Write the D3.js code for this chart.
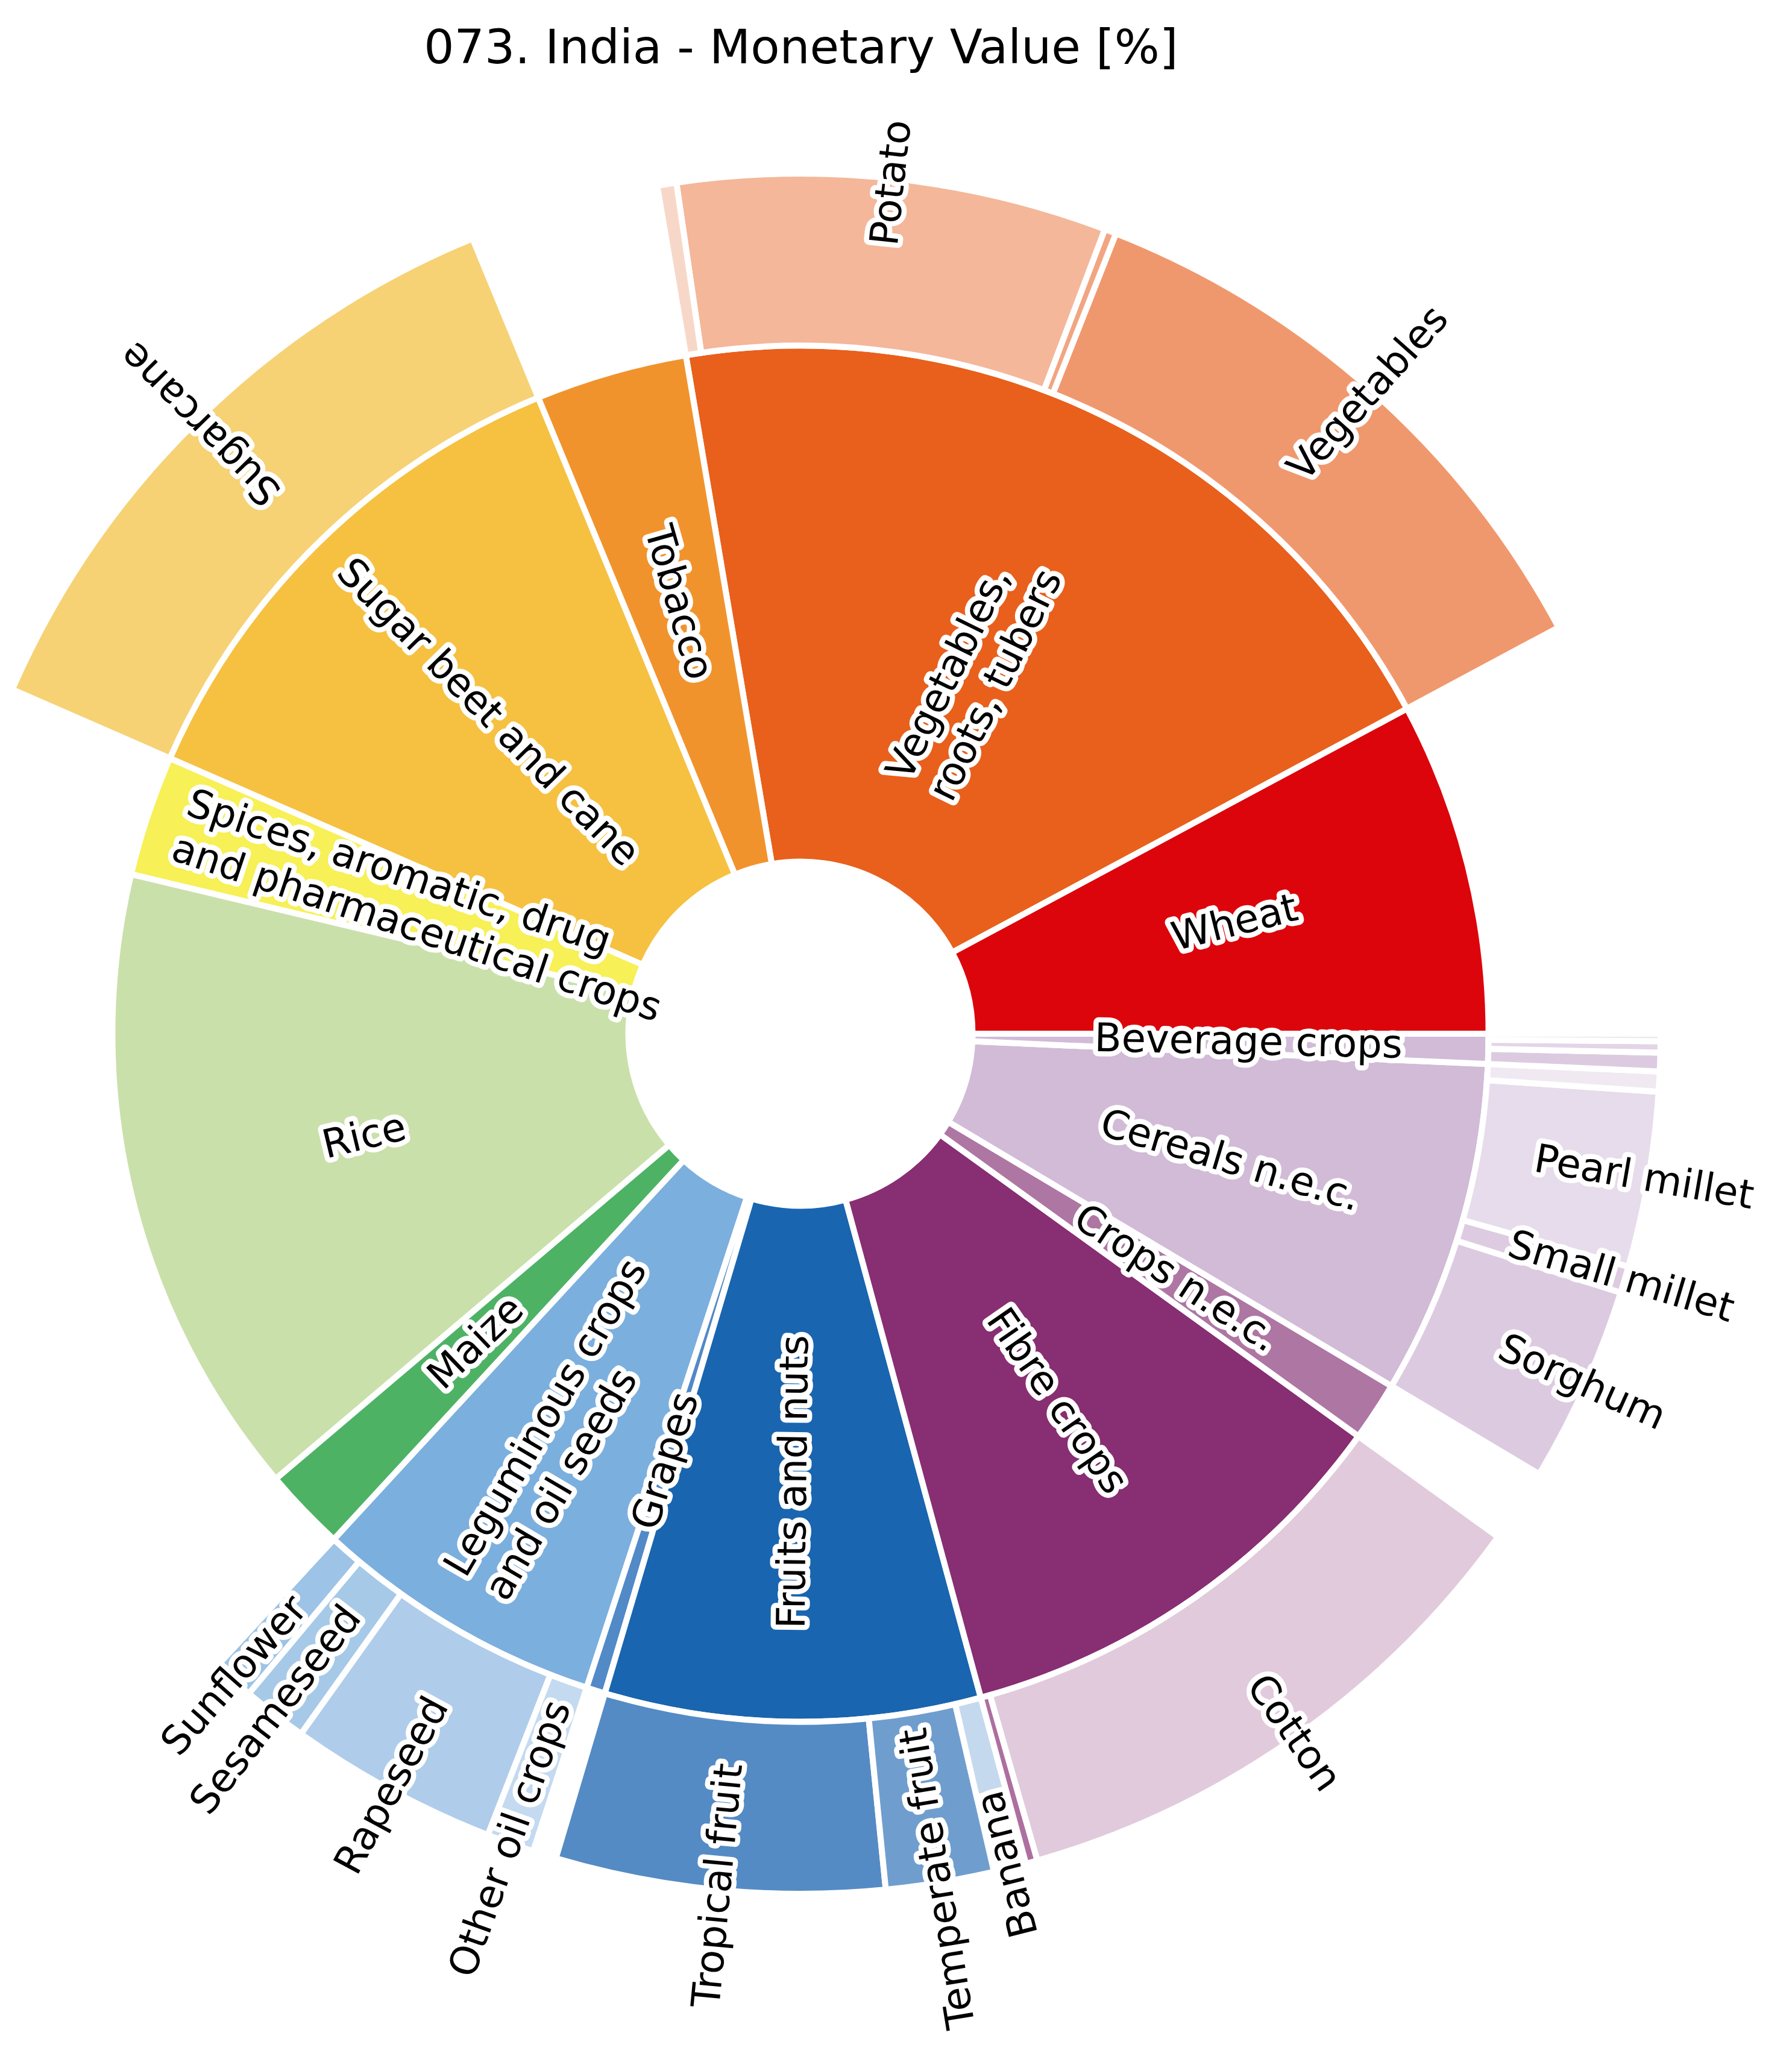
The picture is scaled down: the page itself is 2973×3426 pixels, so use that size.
<!DOCTYPE html>
<html>
<head>
<meta charset="utf-8">
<script src="https://cdn.jsdelivr.net/npm/d3@7"></script>
<style>
html,body{margin:0;padding:0;background:#fff;}
svg{display:block;}
text{font-family:"DejaVu Sans", sans-serif;}
</style>
</head>
<body>
<script>
// ---------------- data ----------------
const title = "073. India - Monetary Value [%]";

// inner ring, counter-clockwise from 3 o'clock
const categories = ["Wheat", "Vegetables,\nroots, tubers", "Tobacco", "Sugar beet and cane",
  "Spices, aromatic, drug\nand pharmaceutical crops", "Rice", "Maize",
  "Leguminous crops\nand oil seeds", "Grapes", "Fruits and nuts", "Fibre crops",
  "Crops n.e.c.", "Cereals n.e.c.", "Beverage crops"];
const categoryValues = [7.83, 19.83, 3.56, 12.22, 2.83, 14.92, 1.94, 6.83, 0.44, 8.81, 10.83, 1.39, 7.86, 0.69];
const categoryColors = ["#DC050C", "#E8601C", "#F1932D", "#F6C141", "#F7F056", "#CAE0AB", "#4EB265",
  "#7BAFDE", "#5289C7", "#1965B0", "#882E72", "#AE76A3", "#D1BBD7", "#D1BBD7"];

// outer ring (sub-items)
const vegNames = ["Vegetables", "Cassava", "Potato", "Sweet potato"];
const vegValues = [11.19, 0.22, 8.06, 0.36];
const vegColors = ["#F0986D", "#F1A581", "#F4B79A", "#F7D8C8"];

const sugarNames = ["Sugarcane"];
const sugarValues = [12.22];
const sugarColors = ["#F6D275"];

const oilNames = ["Sunflower", "Sesameseed", "Rapeseed", "Other oil crops"];
const oilValues = [0.78, 1.22, 3.94, 0.89];
const oilColors = ["#9DC3E6", "#A6C9E8", "#AFCDEA", "#C3DAF0"];

const fruitNames = ["Tropical fruit", "Temperate fruit", "Banana"];
const fruitValues = [6.17, 2.03, 0.61];
const fruitColors = ["#558BC4", "#6F9ECE", "#C5D9EE"];
const fruitReach = [1, 1, 0.555];   // share of the outer band that each item fills

const fibreNames = ["Other fibre crops", "Cotton"];
const fibreValues = [0.22, 10.61];
const fibreColors = ["#AE6FA0", "#E1CADC"];

const cerealNames = ["Sorghum", "Small millet", "Pearl millet", "Other cereals"];
const cerealValues = [3.69, 0.50, 3.29, 0.375];
const cerealColors = ["#DCCBE0", "#DDCCE1", "#E7DCEB", "#F0E9F2"];

const beverageNames = ["Tea", "Coffee", "Other beverages"];
const beverageValues = [0.35, 0.21, 0.14];
const beverageColors = ["#DCCBE0", "#E3D5E7", "#EEE6F0"];

const labelMin = 0.4;  // outer items smaller than this stay unlabeled

// ---------------- layout ----------------
const W = 2973, H = 3426;
const cx = 1328, cy = 1715, R = 1427;
const rScale = d3.scaleLinear().domain([0, 1]).range([0, R]);
const innerLabelR = 0.521, outerLabelR = 0.995;
const labelROverride = new Map([[categories[1], 0.464], [categories[4], 0.462], [categories[7], 0.535]]);

const groups = [
  {parent: categories[1], names: vegNames, values: vegValues, colors: vegColors},
  {parent: categories[3], names: sugarNames, values: sugarValues, colors: sugarColors},
  {parent: categories[7], names: oilNames, values: oilValues, colors: oilColors},
  {parent: categories[9], names: fruitNames, values: fruitValues, colors: fruitColors, reach: fruitReach},
  {parent: categories[10], names: fibreNames, values: fibreValues, colors: fibreColors},
  {parent: categories[12], names: cerealNames, values: cerealValues, colors: cerealColors},
  {parent: categories[13], names: beverageNames, values: beverageValues, colors: beverageColors}
];

const rootData = {
  name: "root",
  children: categories.map((c, i) => {
    const g = groups.find(g => g.parent === c);
    return {
      name: c, color: categoryColors[i], value: g ? 0 : categoryValues[i],
      children: g ? g.names.map((n, j) => ({
        name: n, value: g.values[j], color: g.colors[j], reach: g.reach ? g.reach[j] : 1
      })) : undefined
    };
  })
};

const root = d3.hierarchy(rootData).sum(d => d.children ? 0 : d.value);
d3.partition().size([2 * Math.PI, 1])(root);

const innerR = d => d.depth === 1 ? rScale(0.2) : rScale(0.8);
const outerR = d => d.depth === 1 ? rScale(0.8) : rScale(0.8 + 0.2 * d.data.reach);

// partition x runs counter-clockwise from 3 o'clock
const arc = d3.arc()
  .startAngle(d => Math.PI / 2 - d.x0)
  .endAngle(d => Math.PI / 2 - d.x1)
  .innerRadius(innerR)
  .outerRadius(outerR);

const svg = d3.select("body").append("svg")
  .attr("width", W).attr("height", H)
  .attr("viewBox", `0 0 ${W} ${H}`);
svg.append("rect").attr("width", W).attr("height", H).attr("fill", "#fff");

svg.append("text")
  .attr("x", cx + 1).attr("y", 105)
  .attr("text-anchor", "middle")
  .attr("font-size", 79)
  .attr("fill", "#000")
  .text(title);

const g = svg.append("g").attr("transform", `translate(${cx},${cy})`);

const nodes = root.descendants().filter(d => d.depth > 0);
[1, 2].forEach(depth => {
  g.selectAll(null)
    .data(nodes.filter(d => d.depth === depth))
    .join("path")
    .attr("d", arc)
    .attr("fill", d => d.data.color)
    .attr("stroke", "#fff")
    .attr("stroke-width", 10)
    .attr("stroke-linejoin", "miter");
});

// ---------------- labels ----------------
const fs = 65.5;
const lineGap = 1.2;
const labelled = nodes.filter(d => d.depth === 1 || d.value >= labelMin);
const lab = g.selectAll(null)
  .data(labelled)
  .join("text")
  .attr("font-size", fs)
  .attr("fill", "#000")
  .attr("stroke", "#fff")
  .attr("stroke-width", 17)
  .attr("stroke-linejoin", "round")
  .attr("paint-order", "stroke")
  .attr("transform", d => {
    const mid = (d.x0 + d.x1) / 2;
    const deg = mid * 180 / Math.PI;
    const rf = d.depth === 1 ? (labelROverride.get(d.data.name) ?? innerLabelR) : outerLabelR;
    const r = rScale(rf);
    let rot;
    if (d.depth === 1) rot = (deg > 90 && deg < 270) ? deg - 180 : deg;
    else rot = (deg > 180 && deg < 300) ? deg - 180 : deg;
    return `translate(${r * Math.cos(mid)},${-r * Math.sin(mid)}) rotate(${-rot})`;
  });

lab.each(function(d) {
  const lines = d.data.name.split("\n");
  const n = lines.length;
  const sel = d3.select(this);
  const ts = sel.selectAll("tspan")
    .data(lines)
    .join("tspan")
    .attr("y", (t, i) => (0.276 + (i - (n - 1) / 2) * lineGap) * fs)
    .text(t => t);
  if (n === 1) {
    sel.attr("text-anchor", "middle");
    ts.attr("x", 0);
  } else {
    // multi-line: lines left-aligned inside a centred block
    sel.attr("text-anchor", "start");
    let maxW = 0;
    ts.each(function() { maxW = Math.max(maxW, this.getComputedTextLength()); });
    ts.attr("x", -maxW / 2);
  }
});
</script>
</body>
</html>
